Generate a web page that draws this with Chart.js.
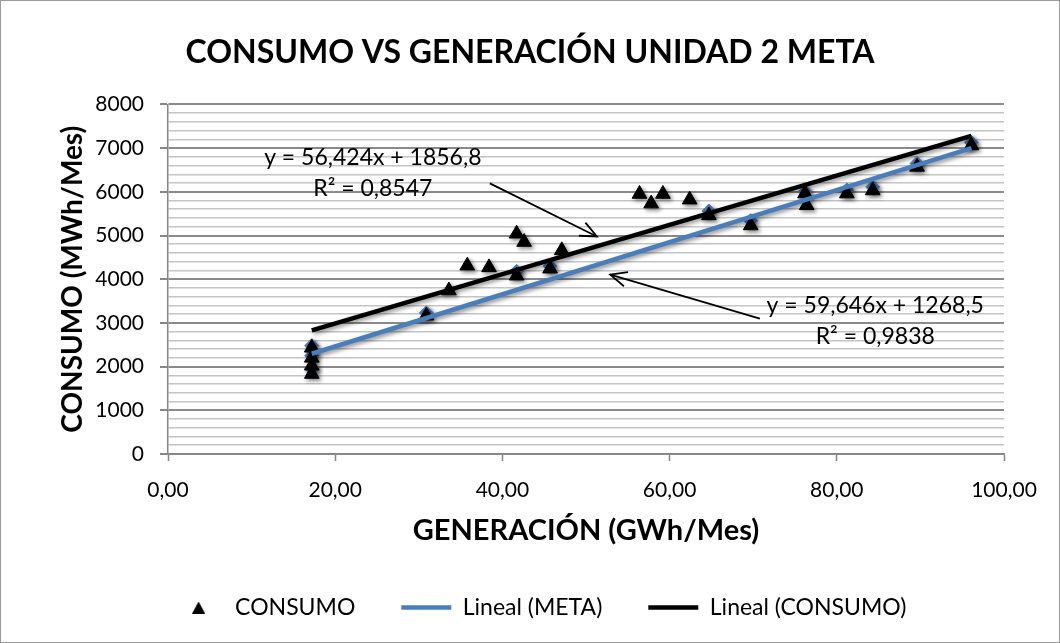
<!DOCTYPE html>
<html>
<head>
<meta charset="utf-8">
<script src="https://cdn.jsdelivr.net/npm/chart.js@4.4.1/dist/chart.umd.min.js"></script>
<style>
  html, body { margin: 0; padding: 0; background: #ffffff; }
  #wrap { width: 1060px; height: 643px; position: relative; }
</style>
</head>
<body>
<div id="wrap"><canvas id="c"></canvas></div>
<script>
// ---- data ----
const chartTitle = "CONSUMO VS GENERACIÓN UNIDAD 2 META";
const xAxisTitle = "GENERACIÓN (GWh/Mes)";
const yAxisTitle = "CONSUMO (MWh/Mes)";

const consumoX = [17.2, 17.2, 17.2, 17.2, 30.9, 33.6, 35.8, 38.4, 41.7, 42.6, 41.7, 45.7, 47.1, 56.4, 57.8, 59.2, 62.4, 64.7, 69.7, 76.2, 76.4, 81.2, 84.3, 89.6, 96.1];
const consumoY = [2430, 2200, 2020, 1830, 3165, 3740, 4310, 4270, 5040, 4850, 4080, 4240, 4660, 5950, 5730, 5950, 5820, 5460, 5230, 5960, 5690, 5960, 6030, 6570, 7060];

const metaX = [17.2, 17.2, 17.2, 30.9, 41.7, 45.7, 64.7, 69.7, 76.2, 81.2, 84.3, 89.6, 96.1];
const metaY = [2480, 2250, 1950, 3230, 4180, 4300, 5560, 5340, 6000, 6040, 6110, 6650, 7130];

// trend line end points (y = 59,646x + 1268,5 and y = 56,424x + 1856,8)
const metaTrendX = [17.2, 96.1];
const metaTrendY = [2294, 7000];
const consumoTrendX = [17.2, 96.1];
const consumoTrendY = [2827, 7279];

const seriesNames = ["CONSUMO", "META", "Lineal (META)", "Lineal (CONSUMO)"];
const eqMeta = ["y = 59,646x + 1268,5", "R² = 0,9838"];
const eqConsumo = ["y = 56,424x + 1856,8", "R² = 0,8547"];

const xTicksStep = 20;
const yTicksMajor = 1000;
const yTicksMinor = 200;

// ---- build ----
const pts = (xs, ys) => xs.map((x, i) => ({ x: x, y: ys[i] }));

const FONT = "Lato";
Chart.defaults.font.family = FONT;
Chart.defaults.color = "#000";

// small triangle icon for the legend
const legendTri = document.createElement("canvas");
legendTri.width = 13; legendTri.height = 12;
(function () {
  const c = legendTri.getContext("2d");
  c.fillStyle = "#000";
  c.beginPath(); c.moveTo(6.5, 0); c.lineTo(13, 12); c.lineTo(0, 12); c.closePath(); c.fill();
})();

// annotation placement (in data units)
const annot = {
  consumo: { x: 24.5, y1: 6790, y2: 6080, from: [38.5, 6193], to: [51.3, 4977] },
  meta:    { x: 84.6, y1: 3394, y2: 2683, from: [70.8, 3096], to: [52.9, 4106] }
};

const shadowPlugin = {
  id: "shadow",
  beforeDatasetDraw(chart) {
    const ctx = chart.ctx;
    ctx.save();
    ctx.shadowColor = "rgba(0,0,0,0.45)";
    ctx.shadowBlur = 4;
    ctx.shadowOffsetX = 2;
    ctx.shadowOffsetY = 2;
  },
  afterDatasetDraw(chart) { chart.ctx.restore(); }
};

const legendShift = {
  id: "legendShift",
  afterLayout(chart) { if (chart.legend) chart.legend.left += 20; }
};

function arrow(ctx, x1, y1, x2, y2) {
  ctx.beginPath();
  ctx.moveTo(x1, y1);
  ctx.lineTo(x2, y2);
  ctx.stroke();
  const a = Math.atan2(y2 - y1, x2 - x1);
  const L = 18, s = 0.42;
  ctx.beginPath();
  ctx.moveTo(x2 - L * Math.cos(a - s), y2 - L * Math.sin(a - s));
  ctx.lineTo(x2, y2);
  ctx.lineTo(x2 - L * Math.cos(a + s), y2 - L * Math.sin(a + s));
  ctx.stroke();
}

const annotPlugin = {
  id: "annot",
  afterDatasetsDraw(chart) {
    const ctx = chart.ctx, xs = chart.scales.x, ys = chart.scales.y;
    ctx.save();
    ctx.fillStyle = "#000";
    ctx.strokeStyle = "#000";
    ctx.lineWidth = 1.8;
    ctx.font = "23px " + FONT;
    ctx.textAlign = "center";
    ctx.textBaseline = "middle";
    [[annot.consumo, eqConsumo], [annot.meta, eqMeta]].forEach(([a, txt]) => {
      ctx.fillText(txt[0], xs.getPixelForValue(a.x), ys.getPixelForValue(a.y1));
      ctx.fillText(txt[1], xs.getPixelForValue(a.x), ys.getPixelForValue(a.y2));
      arrow(ctx, xs.getPixelForValue(a.from[0]), ys.getPixelForValue(a.from[1]),
                 xs.getPixelForValue(a.to[0]), ys.getPixelForValue(a.to[1]));
    });
    ctx.restore();
  },
  afterDraw(chart) {
    const ctx = chart.ctx;
    ctx.save();
    ctx.strokeStyle = "#9a9a9a";
    ctx.lineWidth = 1;
    ctx.strokeRect(0.5, 0.5, chart.width - 1, chart.height - 1);
    ctx.restore();
  }
};

new Chart(document.getElementById("c"), {
  type: "scatter",
  data: {
    datasets: [
      { label: seriesNames[0], data: pts(consumoX, consumoY), pointStyle: "triangle",
        pointRadius: 8.5, pointHoverRadius: 8.5, backgroundColor: "#000", borderColor: "#000", borderWidth: 1, order: 3 },
      { label: seriesNames[1], data: pts(metaX, metaY), pointStyle: "rectRot",
        pointRadius: 7, pointHoverRadius: 7, backgroundColor: "#4a7ebb", borderColor: "#4a7ebb", borderWidth: 1, order: 4 },
      { label: seriesNames[2], data: pts(metaTrendX, metaTrendY), type: "line", showLine: true,
        pointRadius: 0, pointStyle: "line", borderColor: "#4a7ebb", backgroundColor: "#4a7ebb", borderWidth: 4.5, order: 2 },
      { label: seriesNames[3], data: pts(consumoTrendX, consumoTrendY), type: "line", showLine: true,
        pointRadius: 0, pointStyle: "line", borderColor: "#000", backgroundColor: "#000", borderWidth: 4.5, order: 1 }
    ]
  },
  options: {
    responsive: true,
    maintainAspectRatio: false,
    animation: false,
    events: [],
    layout: { padding: { left: 0, right: 0, top: 0, bottom: 14 } },
    plugins: {
      title: {
        display: true, text: chartTitle, color: "#000",
        font: { family: FONT, size: 32, weight: "bold" },
        padding: { top: 33, bottom: 33 }
      },
      legend: {
        position: "bottom",
        labels: {
          usePointStyle: true, pointStyleWidth: 50, boxHeight: 11, padding: 46,
          font: { family: FONT, size: 23 }, color: "#000",
          filter: (item) => item.datasetIndex !== 1,
          sort: (a, b) => a.datasetIndex - b.datasetIndex,
          generateLabels: (chart) => {
            const items = Chart.defaults.plugins.legend.labels.generateLabels(chart);
            items.forEach((it) => { if (it.datasetIndex === 0) it.pointStyle = legendTri; });
            return items;
          }
        }
      },
      tooltip: { enabled: false }
    },
    scales: {
      x: {
        type: "linear", min: 0, max: 100,
        afterFit: (s) => { s.height = 96; },
        ticks: { stepSize: xTicksStep, padding: 17, color: "#000", font: { family: FONT, size: 21 },
                 callback: (v) => v.toFixed(2).replace(".", ",") },
        grid: { drawOnChartArea: false, drawTicks: true, tickLength: 7, tickColor: "#868686", tickWidth: 1.5 },
        border: { color: "#868686", width: 1.5 },
        title: { display: true, text: xAxisTitle, color: "#000",
                 font: { family: FONT, size: 29, weight: "bold" }, padding: { top: 0, bottom: 2 } }
      },
      y: {
        type: "linear", min: 0, max: 8000,
        afterFit: (s) => { s.width = 168; },
        ticks: { stepSize: yTicksMinor, autoSkip: false, padding: 16, color: "#000",
                 font: { family: FONT, size: 21 },
                 callback: (v) => (v % yTicksMajor === 0 ? String(v) : "") },
        grid: {
          color: (c) => (c.tick && c.tick.value % yTicksMajor === 0 ? "#8a8a8a" : "#c4c4c4"),
          lineWidth: (c) => (c.tick && c.tick.value % yTicksMajor === 0 ? 2 : 1.6),
          tickColor: (c) => (c.tick && c.tick.value % yTicksMajor === 0 ? "#868686" : "rgba(0,0,0,0)"),
          tickLength: 8, drawTicks: true
        },
        border: { color: "#868686", width: 1.5 },
        title: { display: true, text: yAxisTitle, color: "#000",
                 font: { family: FONT, size: 28, weight: "bold" }, padding: { top: 56, bottom: 0 } }
      },
      ySpace: {
        type: "linear", position: "right", display: true,
        afterFit: (s) => { s.width = 56; },
        ticks: { display: false },
        grid: { display: false, drawOnChartArea: false },
        border: { display: false }
      }
    }
  },
  plugins: [shadowPlugin, annotPlugin, legendShift]
});
</script>
</body>
</html>
